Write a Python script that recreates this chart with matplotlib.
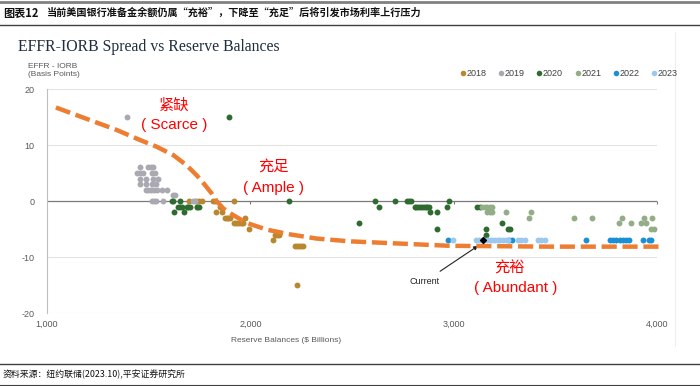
import numpy as np
import matplotlib.pyplot as plt
from matplotlib.lines import Line2D

plt.rcParams['font.family'] = ['Liberation Sans', 'Noto Sans CJK SC', 'DejaVu Sans']
plt.rcParams['axes.unicode_minus'] = False

# points: (reserve balances $bn, EFFR-IORB bp)
x_2018 = [1699, 1735, 1749, 1760, 1817, 1826, 1919, 1739, 1850, 1830, 1863,
          1875, 1883, 1891, 1899, 1973, 1921, 1932, 1940, 1948, 1957, 1965,
          1994, 2120, 2132, 2142, 2112, 2219, 2229, 2239, 2250, 2260, 2232]
y_2018 = [0, 0, 0, 0, 0, 0, 0, -1, -1, -2, -2,
          -3, -3, -3, -3, -3, -4, -4, -4, -4, -4, -4,
          -5, -6, -6, -6, -7, -8, -8, -8, -8, -8, -15]

x_2019 = [1392, 1457, 1498, 1511, 1521, 1444, 1457, 1470, 1517, 1531,
          1457, 1485, 1522, 1547, 1457, 1485, 1517, 1536,
          1485, 1498, 1511, 1526, 1539, 1567, 1588, 1621, 1630,
          1517, 1526, 1536, 1572, 1719, 1727]
y_2019 = [15, 6, 6, 6, 6, 5, 5, 5, 5, 5,
          4, 4, 4, 4, 3, 3, 3, 3,
          2, 2, 2, 2, 2, 2, 2, 1, 1,
          0, 0, 0, 0, 0, 0]

x_2020 = [1894, 2188, 1613, 1621, 1654, 1645, 1654, 1662, 1687, 1695, 1703,
          1739, 1747, 1624, 1675, 2615, 2713, 2771, 2780, 2789, 2975,
          2633, 2808, 2817, 2826, 2835, 2844, 2853, 2862, 2871, 2879, 2967,
          3116, 3128, 2884, 2920, 2535, 3237, 2918, 3157, 3267, 3275, 3157]
y_2020 = [15, 0, 0, 0, 0, -1, -1, -1, -1, -1, -1,
          -1, -1, -2, -2, 0, 0, 0, 0, 0, 0,
          -1, -1, -1, -1, -1, -1, -1, -1, -1, -1, -1,
          -1, -1, -2, -2, -4, -4, -5, -5, -5, -5, -6]

x_2021 = [3141, 3152, 3164, 3177, 3190, 3165, 3177, 3190, 3259, 3378,
          3369, 3591, 3681, 3829, 3934, 3976, 3812, 3873, 3919, 3947,
          3971, 3983]
y_2021 = [-1, -1, -1, -1, -1, -2, -2, -2, -2, -2,
          -3, -3, -3, -3, -3, -3, -4, -4, -4, -4,
          -5, -5]

x_2022 = [2972, 3272, 3288, 3652, 3767, 3783, 3800, 3819, 3832, 3849,
          3862, 3930, 3960, 3971]
y_2022 = [-7] * len(x_2022)

x_2023 = [2997, 3111, 3124, 3137, 3150, 3163, 3177, 3190, 3203, 3216,
          3229, 3242, 3255, 3268, 3316, 3332, 3349, 3414, 3431, 3447]
y_2023 = [-7] * len(x_2023)

current_x, current_y = 3144, -7

curve_x = [1044, 1178, 1342, 1457, 1539, 1621, 1686, 1736, 1776, 1809, 1834,
           1866, 1915, 1981, 2080, 2194, 2325, 2489, 2735, 2980, 3472, 4012]
curve_y = [16.7, 14.9, 12.7, 10.9, 9.7, 8.2, 6.4, 4.6, 2.9, 1.4, 0,
           -1.3, -2.5, -3.9, -5.1, -5.95, -6.7, -7.2, -7.6, -8.0, -8.15, -8.15]

years = ['2018', '2019', '2020', '2021', '2022', '2023']
colors = ['#B8872E', '#A9A9B1', '#2E6B2F', '#93AE86', '#1A8FD3', '#9DC8EE']
series = [(x_2018, y_2018), (x_2019, y_2019), (x_2020, y_2020),
          (x_2021, y_2021), (x_2022, y_2022), (x_2023, y_2023)]

fig = plt.figure(figsize=(7, 3.86), dpi=100)
ax = fig.add_axes([0.0671, 0.1891, 0.8715, 0.5803])

for (xs, ys), c in zip(series, colors):
    ax.scatter(xs, ys, s=18, color=c, linewidths=0, zorder=3)
ax.scatter([current_x], [current_y], marker='D', s=9, color='black', zorder=5)

ax.plot(curve_x, curve_y, color='#ED7D31', lw=3.2, dashes=(3.4, 1.3),
        solid_capstyle='butt', dash_capstyle='butt', zorder=4, clip_on=False)

ax.set_xlim(1000, 4000)
ax.set_ylim(-20, 20)
ax.set_yticks([-20, -10, 0, 10, 20])
ax.set_xticks([1000, 2000, 3000, 4000])
ax.set_xticklabels(['1,000', '2,000', '3,000', '4,000'])
ax.tick_params(axis='both', labelsize=6.5, labelcolor='#595959', length=0)
ax.tick_params(axis='y', pad=9)
ax.tick_params(axis='x', pad=5)
for y in [-20, -10, 10, 20]:
    ax.axhline(y, color='#E3E3E3', lw=0.8, zorder=1)
ax.axhline(0, color='#7A7A7A', lw=0.9, zorder=2)
ax.plot([2000, 3000, 4000], [0, 0, 0], ls='none', marker=3, ms=2.5,
        color='#7A7A7A', mew=0.8)
for s in ['top', 'right', 'bottom']:
    ax.spines[s].set_visible(False)
ax.spines['left'].set_color('#BFBFBF')
ax.spines['left'].set_linewidth(0.8)

# annotations
red_kw = dict(color='#FF0000', ha='center', va='center', fontsize=11)
ax.text(1624, 17.1, '紧缺', **red_kw)
ax.text(1624, 13.6, '( Scarce )', **red_kw)
ax.text(2115, 6.0, '充足', **red_kw)
ax.text(2115, 2.4, '( Ample )', **red_kw)
ax.text(3275, -12.0, '充裕', **red_kw)
ax.text(3303, -15.6, '( Abundant )', **red_kw)
ax.annotate('Current', xy=(3120, -8.0), xytext=(2857, -14.4),
            fontsize=6.5, color='#222222', ha='center', va='center',
            arrowprops=dict(arrowstyle='-|>', color='#222222', lw=0.8,
                            mutation_scale=6, shrinkA=4, shrinkB=0))

# chart header
fig.text(18 / 700, 1 - 47 / 386, 'EFFR-IORB Spread vs Reserve Balances',
         family='Liberation Serif', fontsize=11.3, color='#1F2D3D', va='center')
fig.text(28 / 700, 1 - 66 / 386, 'EFFR - IORB', fontsize=6, color='#595959', va='center')
fig.text(28 / 700, 1 - 75 / 386, '(Basis Points)', fontsize=6, color='#595959', va='center')
fig.text(286 / 700, 1 - 340 / 386, 'Reserve Balances ($ Billions)', fontsize=6,
         color='#595959', ha='center', va='center')

# legend
leg_x = [463, 501, 539, 578, 616, 654]
for lx, yr, c in zip(leg_x, years, colors):
    fig.add_artist(Line2D([lx / 700], [1 - 73 / 386], marker='o', ms=4,
                          color=c, mew=0, ls='none'))
    fig.text((lx + 3.5) / 700, 1 - 73 / 386, yr, fontsize=6.5, color='#404040', va='center')

# light right border of inner chart
fig.add_artist(Line2D([675 / 700, 675 / 700], [1 - 32 / 386, 1 - 346 / 386],
                      color='#EEEEEE', lw=0.8))

# report frame
fig.add_artist(Line2D([0, 1], [1 - 1.5 / 386, 1 - 1.5 / 386], color='#808080', lw=2))
fig.add_artist(Line2D([0, 1], [1 - 24.5 / 386, 1 - 24.5 / 386], color='#404040', lw=1))
fig.text(3 / 700, 1 - 13 / 386, '图表12', family=['Noto Sans CJK SC', 'DejaVu Sans'],
         fontsize=8, weight='bold', color='#111111', va='center')
fig.text(47 / 700, 1 - 13 / 386,
         '当前美国银行准备金余额仍属“充裕”，下降至“充足”后将引发市场利率上行压力',
         family=['Noto Sans CJK SC', 'DejaVu Sans'], fontsize=7.3, weight='bold',
         color='#111111', va='center')
fig.add_artist(Line2D([0, 1], [1 - 364 / 386, 1 - 364 / 386], color='#404040', lw=1))
fig.text(3 / 700, 1 - 374 / 386, '资料来源：纽约联储(2023.10),平安证券研究所',
         family=['Noto Sans CJK SC', 'DejaVu Sans'], fontsize=6.4, style='italic',
         color='#111111', va='center')
fig.add_artist(Line2D([0, 1], [1 - 384.5 / 386, 1 - 384.5 / 386], color='#404040', lw=0.8))

fig.savefig('out.png', dpi=100)
